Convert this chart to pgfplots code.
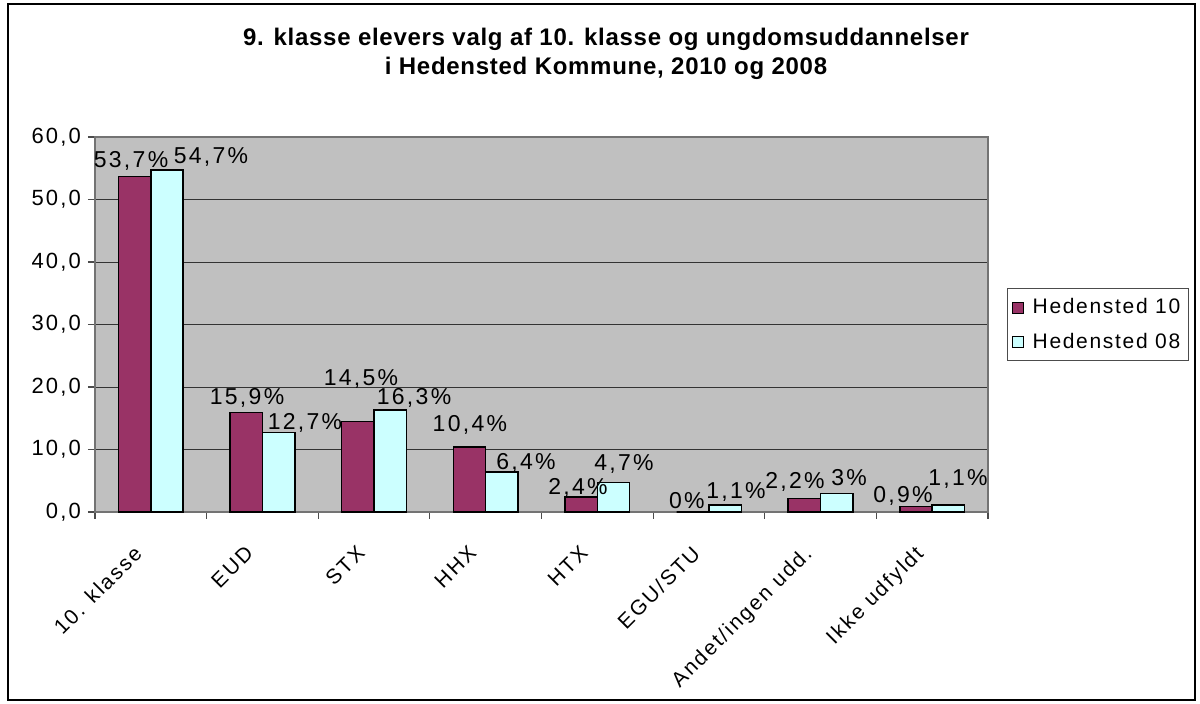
\documentclass[border=0pt]{standalone}
\usepackage{pgfplots}
\pgfplotsset{compat=1.18}
\usepackage{fontspec}
\setmainfont{Liberation Sans}
\newfontfamily\spaced[LetterSpace=10]{Liberation Sans}
\newfontfamily\legspaced[LetterSpace=8]{Liberation Sans}
\newfontfamily\titlespaced[LetterSpace=3]{Liberation Sans}
\definecolor{plum}{HTML}{993366}
\definecolor{icecyan}{HTML}{CCFFFF}
\definecolor{plotbg}{HTML}{C0C0C0}

\pgfplotstableread{
x  h10   h08
0  53.7  54.7
1  15.9  12.7
2  14.5  16.3
3  10.4  6.4
4  2.4   4.7
5  0.0   1.1
6  2.2   3.0
7  0.9   1.1
}\valg

\newcommand\lblfont{\spaced\fontsize{11.5bp}{13bp}\selectfont}
\newcommand\ttlfont{\titlespaced\bfseries\fontsize{12bp}{14bp}\selectfont}

\begin{document}
\begin{tikzpicture}
\useasboundingbox (0,0) rectangle (600bp,352bp);
\fill[white] (0,0) rectangle (600bp,352bp);
\draw[line width=0.7bp] (4bp,2bp) rectangle (597.5bp,350bp);
\node[font=\ttlfont, anchor=base] at (303bp,329bp)
  {9. klasse elevers valg af 10. klasse og ungdomsuddannelser};
\node[font=\ttlfont, anchor=base] at (303bp,314.5bp)
  {i Hedensted Kommune, 2010 og 2008};
\begin{axis}[
    at={(47.5bp,96bp)}, anchor=south west,
    width=446.5bp, height=187.5bp, scale only axis,
    axis background/.style={fill=plotbg},
    axis line style={draw=black!55, line width=0.6bp},
    ybar=0pt,
    bar width=0.29,
    xmin=-0.5, xmax=7.5,
    ymin=0, ymax=60,
    ytick={0,10,...,60},
    xtick={0,...,7},
    xticklabels={10. klasse, EUD, STX, HHX, HTX, EGU/STU, Andet/ingen udd., Ikke udfyldt},
    major x tick style={draw=none},
    minor xtick={-0.5,0.5,...,7.5},
    tick align=outside, tick pos=left,
    major tick length=3.5bp, minor tick length=3.5bp,
    every tick/.style={black!70, line width=0.6bp},
    ymajorgrids,
    major grid style={black!80, line width=0.5bp},
    yticklabel style={font=\spaced\fontsize{11bp}{13bp}\selectfont,
        /pgf/number format/.cd, fixed, fixed zerofill, precision=1, use comma,
        assume math mode=true},
    xticklabel style={font=\spaced\fontsize{10.5bp}{12bp}\selectfont,
        rotate=45, anchor=north east, xshift=-12bp, yshift=1bp},
    clip=false,
    legend style={at={(1.0213,0.597)}, anchor=north west,
        draw=black!70, line width=0.5bp, fill=white,
        font=\legspaced\fontsize{10.5bp}{12bp}\selectfont,
        inner xsep=2bp, inner ysep=3bp, row sep=4bp},
    legend cell align=left,
    legend image code/.code={\draw[#1, line width=0.5bp] (0bp,-2.8bp) rectangle (5.6bp,2.8bp);
        \path (8bp,0bp);},
]
\addplot[fill=plum, draw=black, line width=0.7bp] table[x=x, y=h10] {\valg};
\addplot[fill=icecyan, draw=black, line width=0.7bp] table[x=x, y=h08] {\valg};
\legend{Hedensted 10, Hedensted 08}

\begin{scope}[every node/.style={font=\lblfont, inner sep=0pt}]
\node at (axis cs:-0.177,56.2) {53,7\%};
\node at (axis cs:0.539,56.8) {54,7\%};
\node at (axis cs:0.862,18.2) {15,9\%};
\node at (axis cs:1.381,14.2) {12,7\%};
\node at (axis cs:1.883,21.3) {14,5\%};
\node at (axis cs:2.358,18.2) {16,3\%};
\node at (axis cs:2.859,13.9) {10,4\%};
\node at (axis cs:3.361,7.8) {6,4\%};
\node at (axis cs:3.827,3.84) {2,4\%};
\node at (axis cs:4.239,7.7) {4,7\%};
\node at (axis cs:4.803,1.9) {0\%};
\node at (axis cs:5.242,3.2) {1,1\%};
\node at (axis cs:5.771,4.8) {2,2\%};
\node at (axis cs:6.255,5.44) {3\%};
\node at (axis cs:6.739,2.56) {0,9\%};
\node at (axis cs:7.231,5.3) {1,1\%};
\end{scope}
\end{axis}
\end{tikzpicture}
\end{document}
